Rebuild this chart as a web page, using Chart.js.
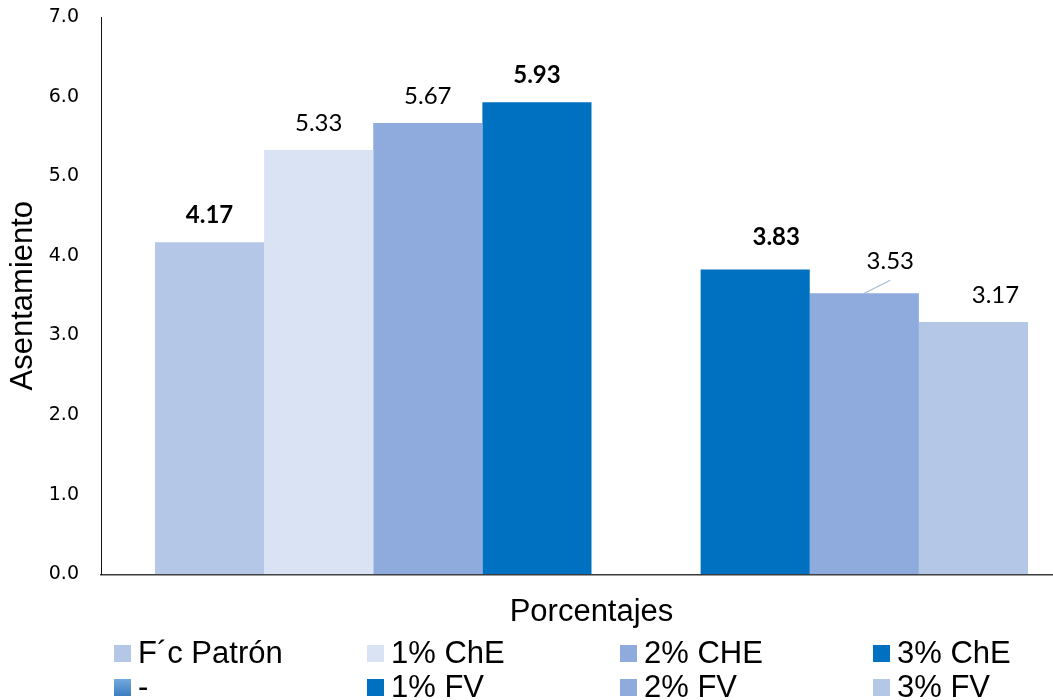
<!DOCTYPE html>
<html>
<head>
<meta charset="utf-8">
<script src="https://cdn.jsdelivr.net/npm/chart.js@4.4.1/dist/chart.umd.min.js"></script>
<style>
  html, body { margin: 0; padding: 0; background: #fff; overflow: hidden; }
  #wrap { position: relative; width: 1053px; height: 700px; overflow: hidden; }
  #chart { position: absolute; left: 0; top: 0; }
  #legend { position: absolute; left: 0; top: 0; width: 1053px; height: 700px; pointer-events: none;
            font-family: "Liberation Sans", Arial, sans-serif; font-size: 31px; color: #000; }
  .item { position: absolute; display: flex; align-items: center; height: 34px; white-space: nowrap; }
  .swatch { width: 17px; height: 17px; margin-right: 7px; flex: none; }
</style>
</head>
<body>
<div id="wrap">
  <canvas id="chart" width="1082" height="700"></canvas>
  <div id="legend"></div>
</div>
<script>
// Series names, in legend order (row by row)
const seriesNames = ['F\u00b4c Patrón', '1% ChE', '2% CHE', '3% ChE', '-', '1% FV', '2% FV', '3% FV'];
// Slump value of each series (the "-" series carries no value)
const seriesValues = [4.17, 5.33, 5.67, 5.93, null, 3.83, 3.53, 3.17];
const seriesColors = ['#B4C7E7', '#DAE3F3', '#8FAADC', '#0070C0', '#4A8CCB', '#0070C0', '#8FAADC', '#B4C7E7'];
const categories = [''];
const yTicks = [0, 1, 2, 3, 4, 5, 6, 7];

// Per-series label styling: bold text, label shift and optional leader line
const labelStyle = [
  { bold: true },
  { bold: false },
  { bold: false },
  { bold: true },
  { bold: false },
  { bold: true, dx: 21, dy: -5 },
  { bold: false, dx: 26, dy: -5, leader: true },
  { bold: false, dx: 22, dy: 0 }
];

const datasets = seriesNames.map((name, i) => ({
  label: name,
  data: [seriesValues[i]],
  backgroundColor: seriesColors[i],
  borderWidth: 0,
  categoryPercentage: 873 / 981,
  barPercentage: 1
}));

const valueLabels = {
  id: 'valueLabels',
  afterDatasetsDraw(chart) {
    const ctx = chart.ctx;
    chart.data.datasets.forEach((ds, i) => {
      const meta = chart.getDatasetMeta(i);
      const st = labelStyle[i] || {};
      meta.data.forEach((bar, j) => {
        const v = ds.data[j];
        if (v === null || v === undefined) return;
        const lx = bar.x + (st.dx || 0);
        const ly = bar.y - 19 + (st.dy || 0);
        ctx.save();
        if (st.leader) {
          ctx.strokeStyle = '#A9B9D3';
          ctx.lineWidth = 1.2;
          ctx.beginPath();
          ctx.moveTo(bar.x, bar.y);
          ctx.lineTo(lx, ly + 11);
          ctx.stroke();
        }
        ctx.fillStyle = '#000';
        ctx.font = (st.bold ? 'bold ' : '') + '24px Lato, "Open Sans", sans-serif';
        ctx.textAlign = 'center';
        ctx.textBaseline = 'alphabetic';
        ctx.fillText(v.toFixed(2), lx, ly);
        ctx.restore();
      });
    });
  }
};

new Chart(document.getElementById('chart'), {
  type: 'bar',
  data: { labels: categories, datasets },
  options: {
    responsive: false,
    animation: false,
    devicePixelRatio: 1,
    layout: { padding: { top: 17, right: 0, bottom: 70, left: 0 } },
    plugins: { legend: { display: false }, tooltip: { enabled: false } },
    scales: {
      x: {
        grid: { display: false, drawTicks: false },
        border: { display: true, color: '#3A3A3A', width: 1.5 },
        ticks: { display: false },
        title: {
          display: true, text: 'Porcentajes', color: '#000',
          font: { family: '"Liberation Sans", Arial, sans-serif', size: 31, lineHeight: 1.15 },
          padding: { top: 20, bottom: 0 }
        }
      },
      y: {
        min: 0, max: 7,
        afterBuildTicks(scale) { scale.ticks = yTicks.map(v => ({ value: v })); },
        afterFit(scale) {
          scale.width = 101;
          // the top/bottom labels overflow the plot freely; no extra reserve
          scale.paddingTop = 0;
          scale.paddingBottom = 0;
        },
        grid: { display: false, drawTicks: false },
        border: { display: true, color: '#111', width: 1 },
        ticks: {
          color: '#000', padding: 22,
          font: { family: '"DejaVu Sans", sans-serif', size: 19 },
          callback: v => Number(v).toFixed(1)
        },
        title: {
          display: true, text: 'Asentamiento', color: '#000',
          font: { family: '"Liberation Sans", Arial, sans-serif', size: 31, lineHeight: 1.15 },
          padding: { top: 6, bottom: 0 }
        }
      }
    }
  },
  plugins: [valueLabels]
});

// Legend: four columns, two rows
const legend = document.getElementById('legend');
seriesNames.forEach((name, i) => {
  const col = i % 4, row = Math.floor(i / 4);
  const item = document.createElement('div');
  item.className = 'item';
  item.style.left = (114 + col * 253) + 'px';
  item.style.top = (636 + row * 34) + 'px';
  const sw = document.createElement('span');
  sw.className = 'swatch';
  sw.style.background = name === '-' ? 'linear-gradient(#74A9DD, #3A7EC2)' : seriesColors[i];
  const tx = document.createElement('span');
  tx.textContent = name;
  item.appendChild(sw);
  item.appendChild(tx);
  legend.appendChild(item);
});
</script>
</body>
</html>
